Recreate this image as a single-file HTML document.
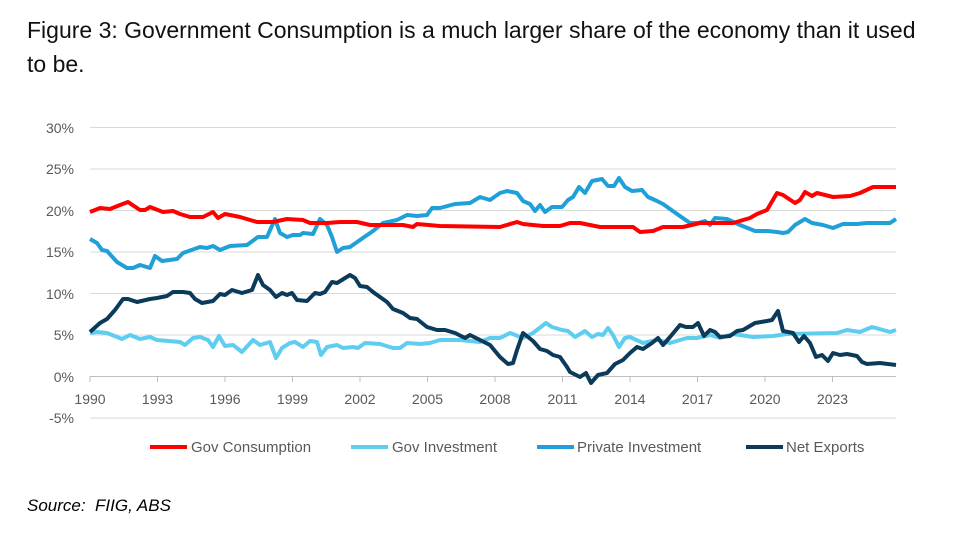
<!DOCTYPE html>
<html><head><meta charset="utf-8"><style>
body{margin:0;background:#fff;width:967px;height:553px;overflow:hidden;font-family:"Liberation Sans",sans-serif}
.t{position:absolute;left:27px;top:13px;font-size:23px;line-height:34px;color:#111;width:900px}
.s{position:absolute;left:27px;top:496px;font-size:17px;font-style:italic;color:#000}
</style></head><body>
<div class="t">Figure 3: Government Consumption is a much larger share of the economy than it used to be.</div>
<svg width="967" height="553" style="position:absolute;left:0;top:0">
<g stroke="#d9d9d9" stroke-width="1">
<line x1="90" x2="896" y1="127.5" y2="127.5"/><line x1="90" x2="896" y1="169" y2="169"/><line x1="90" x2="896" y1="210.5" y2="210.5"/><line x1="90" x2="896" y1="252" y2="252"/><line x1="90" x2="896" y1="293.5" y2="293.5"/><line x1="90" x2="896" y1="335" y2="335"/><line x1="90" x2="896" y1="418" y2="418"/>
</g>
<line x1="90" x2="896" y1="376.5" y2="376.5" stroke="#bfbfbf"/>
<g stroke="#bfbfbf"><line x1="90" x2="90" y1="376" y2="382"/><line x1="157.5" x2="157.5" y1="376" y2="382"/><line x1="225" x2="225" y1="376" y2="382"/><line x1="292.5" x2="292.5" y1="376" y2="382"/><line x1="360" x2="360" y1="376" y2="382"/><line x1="427.5" x2="427.5" y1="376" y2="382"/><line x1="495" x2="495" y1="376" y2="382"/><line x1="562.5" x2="562.5" y1="376" y2="382"/><line x1="630" x2="630" y1="376" y2="382"/><line x1="697.5" x2="697.5" y1="376" y2="382"/><line x1="765" x2="765" y1="376" y2="382"/><line x1="832.5" x2="832.5" y1="376" y2="382"/></g>
<g font-size="14" fill="#595959" text-anchor="end">
<text x="74" y="133">30%</text><text x="74" y="174">25%</text><text x="74" y="216">20%</text><text x="74" y="257">15%</text><text x="74" y="299">10%</text><text x="74" y="340">5%</text><text x="74" y="382">0%</text><text x="74" y="423">-5%</text>
</g>
<g font-size="14" fill="#595959" text-anchor="middle">
<text x="90" y="404">1990</text><text x="157.5" y="404">1993</text><text x="225" y="404">1996</text><text x="292.5" y="404">1999</text><text x="360" y="404">2002</text><text x="427.5" y="404">2005</text><text x="495" y="404">2008</text><text x="562.5" y="404">2011</text><text x="630" y="404">2014</text><text x="697.5" y="404">2017</text><text x="765" y="404">2020</text><text x="832.5" y="404">2023</text>
</g>
<g fill="none" stroke-width="4" stroke-linejoin="round">
<polyline stroke="#5ecdf0" points="90,333 97,332 107,333 122,339 130,335 140,339 150,337 157,340 180,342 185,345 193,338 200,337 208,340 213,347 219,336 225,346 233,345 242,352 253,340 260,345 270,342 276,358 282,348 290,343 295,342 303,347 310,341 317,342 321,355 327,347 337,345 343,348 353,347 358,348 365,343 380,344 393,348 400,348 407,343 420,344 430,343 440,340 460,340 480,342 490,338 500,338 510,333 523,338 533,333 546,323 552,327 562,330 568,331 575,337 585,331 592,337 598,334 603,335 608,328 613,335 619,347 625,338 630,337 643,343 657,340 670,343 687,338 697,338 710,335 720,338 733,334 753,337 773,336 787,334 837,333 847,330 860,332 872,327 883,330 890,332 896,330"/>
<polyline stroke="#1fa0d8" points="90,239 97,243 102,250 107,251 117,262 127,268 133,268 140,265 150,268 155,256 162,261 177,259 183,253 200,247 207,248 213,246 220,250 230,246 247,245 258,237 267,237 275,219 280,233 287,237 293,235 300,235 303,233 313,234 320,219 327,225 332,237 337,252 343,248 350,247 360,240 373,231 383,223 397,220 407,215 417,216 427,215 432,208 440,208 455,204 470,203 480,197 490,200 500,193 507,191 517,193 523,201 530,204 535,211 540,205 545,212 552,207 562,207 568,200 573,197 579,187 585,193 592,181 602,179 608,186 614,186 619,178 625,187 632,191 642,190 648,197 657,201 663,204 677,214 690,223 698,223 705,221 710,225 715,218 727,219 740,225 755,231 767,231 777,232 783,233 788,232 795,225 805,219 812,223 823,225 833,228 843,224 857,224 867,223 890,223 896,219"/>
<polyline stroke="#ff0000" points="90,212 100,208 110,209 120,205 128,202 140,210 145,210 150,207 163,212 173,211 180,214 190,217 203,217 213,212 218,218 225,214 240,217 257,222 273,222 287,219 303,220 310,223 327,223 340,222 357,222 370,225 387,225 403,225 413,227 417,224 440,226 500,227 517,222 523,224 543,226 560,226 570,223 580,223 600,227 633,227 640,232 653,231 663,227 683,227 700,223 733,223 750,218 757,214 767,210 777,193 783,195 795,203 800,200 805,192 812,196 817,193 833,197 850,196 860,193 873,187 883,187 896,187"/>
<polyline stroke="#0b3a5a" points="90,332 100,323 107,319 115,310 123,299 128,299 137,302 150,299 157,298 167,296 173,292 183,292 190,293 195,299 202,303 213,301 220,294 225,295 232,290 242,293 252,290 258,275 263,285 270,290 276,297 282,293 287,295 292,293 297,300 307,301 315,293 320,294 325,292 332,282 337,283 350,275 355,278 360,286 367,287 373,292 380,297 387,302 393,309 403,313 410,318 417,319 427,327 437,330 445,330 455,333 465,338 470,335 480,340 490,345 500,357 508,364 513,363 517,350 523,333 533,341 540,349 547,351 553,355 560,357 567,367 570,372 580,377 586,373 591,383 598,375 607,373 615,364 623,360 630,353 637,347 643,349 652,343 658,338 663,345 670,337 680,325 686,327 693,327 698,323 704,336 710,330 715,332 720,337 730,336 737,331 743,330 755,323 767,321 772,320 778,311 783,331 793,333 799,342 804,336 810,343 816,357 822,355 828,361 833,353 840,355 847,354 857,356 862,362 867,364 880,363 896,365"/>
</g>
<g stroke-width="4">
<line x1="150" x2="187" y1="447" y2="447" stroke="#ff0000"/>
<line x1="351" x2="388" y1="447" y2="447" stroke="#5ecdf0"/>
<line x1="537" x2="574" y1="447" y2="447" stroke="#1fa0d8"/>
<line x1="746" x2="783" y1="447" y2="447" stroke="#0b3a5a"/>
</g>
<g font-size="15" fill="#595959">
<text x="191" y="452">Gov Consumption</text><text x="392" y="452">Gov Investment</text><text x="577" y="452">Private Investment</text><text x="786" y="452">Net Exports</text>
</g>
</svg>
<div class="s">Source:&nbsp; FIIG, ABS</div>
</body></html>
